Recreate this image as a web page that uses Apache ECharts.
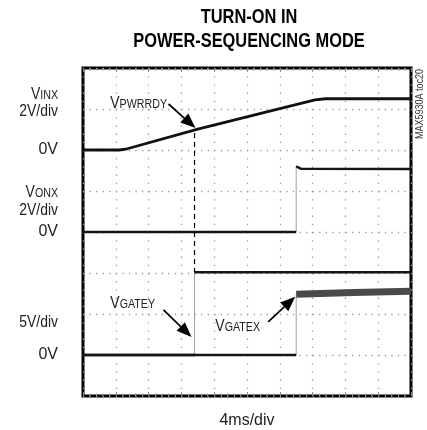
<!DOCTYPE html>
<html>
<head>
<meta charset="utf-8">
<script src="https://cdn.jsdelivr.net/npm/echarts@6/dist/echarts.min.js"></script>
<style>
  html, body { margin: 0; padding: 0; background: #fff; }
  #chart { width: 427px; height: 430px; }
</style>
</head>
<body>
<div id="chart"></div>
<script>
// ── scope data: time in ms (4ms/div, 10 div), values in volts ──
const FONT = '"Liberation Sans", Arial, sans-serif'
const NARROW = 0.82 // squeeze to a narrow face

const vinxTime = [0, 4.4, 5.4, 14, 24, 28.3, 29.6, 40]
const vinxVolts = [0, 0, 0.06, 1.02, 2.02, 2.44, 2.5, 2.5]

// repeated time = vertical edge
const vonxTime = [0, 26, 26, 26.6, 40]
const vonxVolts = [0, 0, 3.2, 3.08, 3.07]

const gateyTime = [0, 13.6, 13.6, 40]
const gateyVolts = [0, 0, 10.1, 10.1]

const gatexTime = [0, 26, 26, 33, 40]
const gatexVolts = [0, 0, 7.4, 7.62, 7.77]

const timeTicks = [0, 40, 4]   // min, max, interval (ms)
const dashTime = 13.6          // VPWRRDY marker

const chart = echarts.init(document.getElementById('chart'))

// split a trace into level segments and thin edge segments
function buildTrace(t, v) {
  const segs = [[]]
  const edges = []
  for (let i = 0; i < t.length; i++) {
    if (i > 0 && t[i] === t[i - 1]) {
      edges.push([t[i - 1], v[i - 1]], [t[i], v[i]], [t[i], '-'])
      segs.push([])
    }
    segs[segs.length - 1].push([t[i], v[i]])
  }
  return { segs, edges }
}

const joinSegs = (segs) => segs.flatMap((s, k) => (k ? [[s[0][0], '-'], ...s] : s))

function interp(t, v, x) {
  for (let i = 1; i < t.length; i++) {
    if (x <= t[i]) return v[i - 1] + (v[i] - v[i - 1]) * (x - t[i - 1]) / (t[i] - t[i - 1])
  }
  return v[v.length - 1]
}

const vonx = buildTrace(vonxTime, vonxVolts)
const gatey = buildTrace(gateyTime, gateyVolts)
const gatex = buildTrace(gatexTime, gatexVolts)

const dotH = { color: '#9a9a9a', width: 1.3, type: [1.3, 5.26] }
const dotV = { color: '#9a9a9a', width: 1.3, type: [1.3, 6.9] }
const zeroLabel = {
  margin: 25, fontSize: 16, color: '#222', fontFamily: FONT, padding: [4, 0, 0, 0],
  formatter: (v) => (v === 0 ? '0V' : ''),
}
const hiddenLine = { show: false, onZero: false }

function trace(data, axis, color, width) {
  return {
    type: 'line', data, yAxisIndex: axis, symbol: 'none', silent: true,
    lineStyle: { color, width }, animation: false, z: 3,
  }
}

function edge(data, axis) {
  return {
    type: 'line', data, yAxisIndex: axis, symbol: 'none', silent: true,
    lineStyle: { color: '#a0a0a0', width: 1 }, animation: false, z: 2,
  }
}

chart.setOption({
  animation: false,
  grid: {
    left: 83, top: 68, width: 328, height: 328, containLabel: false, outerBoundsMode: 'none',
    show: true, borderColor: '#000', borderWidth: 3, backgroundColor: '#fff',
  },
  xAxis: [
    {
      type: 'value', min: timeTicks[0], max: timeTicks[1], interval: timeTicks[2],
      name: '4ms/div', nameLocation: 'middle', nameGap: 17,
      nameTextStyle: { fontFamily: FONT, fontSize: 16, color: '#222' },
      axisLine: hiddenLine,
      axisLabel: { show: false },
      axisTick: { show: true, inside: true, length: 4, lineStyle: { color: '#888' } },
      minorTick: { show: true, splitNumber: 5, length: 2.5, lineStyle: { color: '#999' } },
      splitLine: { show: true, lineStyle: dotV },
    },
    {
      type: 'value', position: 'top', min: timeTicks[0], max: timeTicks[1], interval: timeTicks[2],
      axisLine: hiddenLine, axisLabel: { show: false },
      axisTick: { show: true, inside: true, length: 4, lineStyle: { color: '#888' } },
      minorTick: { show: true, splitNumber: 5, length: 2.5, lineStyle: { color: '#999' } },
      splitLine: { show: false },
    },
  ],
  yAxis: [
    // VINX 2V/div, zero at div 6
    {
      type: 'value', position: 'left', min: -12, max: 4, interval: 2,
      axisLine: hiddenLine, axisTick: { show: false },
      axisLabel: zeroLabel,
      splitLine: { show: true, lineStyle: dotH },
    },
    // VONX 2V/div, zero at div 4
    {
      type: 'value', position: 'left', min: -8, max: 8, interval: 2,
      axisLine: hiddenLine, axisTick: { show: false },
      axisLabel: zeroLabel, splitLine: { show: false },
    },
    // VGATE 5V/div, zero at div 1
    {
      type: 'value', position: 'left', min: -5, max: 35, interval: 5,
      axisLine: hiddenLine, axisTick: { show: false },
      axisLabel: { ...zeroLabel, padding: [10, 0, 0, 0] }, splitLine: { show: false },
    },
  ],
  series: [
    trace(vinxTime.map((t, i) => [t, vinxVolts[i]]), 0, '#111', 2.8),
    trace(joinSegs(vonx.segs), 1, '#151515', 2.4),
    edge(vonx.edges, 1),
    trace(joinSegs(gatey.segs), 2, '#151515', 2.4),
    edge(gatey.edges, 2),
    trace(gatex.segs[0], 2, '#151515', 2.4),
    { ...trace(gatex.segs[1], 2, '#4a4a4a', 7), z: 4 },
    edge(gatex.edges, 2),
  ],
})

// ── annotations anchored on the data ──
const px = (axis, t, v) => chart.convertToPixel({ xAxisIndex: 0, yAxisIndex: axis }, [t, v])

function arrow(tip, dx, dy) {
  const tail = [tip[0] + dx, tip[1] + dy]
  const len = Math.hypot(dx, dy)
  const ux = -dx / len, uy = -dy / len
  const headLen = 15, halfW = 6
  const base = [tip[0] - ux * headLen, tip[1] - uy * headLen]
  return [
    { type: 'line', shape: { x1: tail[0], y1: tail[1], x2: base[0], y2: base[1] }, style: { stroke: '#000', lineWidth: 1.7 }, z: 10 },
    {
      type: 'polygon', z: 10,
      shape: { points: [tip, [base[0] - uy * halfW, base[1] + ux * halfW], [base[0] + uy * halfW, base[1] - ux * halfW]] },
      style: { fill: '#000' },
    },
  ]
}

function label(x, y, main, sub) {
  return {
    type: 'text', x, y, z: 10, scaleX: NARROW, scaleY: 1,
    style: {
      text: sub ? `{v|${main}}{s|${sub}}` : main,
      align: 'right', verticalAlign: 'middle',
      font: `17px ${FONT}`, fill: '#222',
      rich: {
        v: { fontSize: 17, fontFamily: FONT, fill: '#222' },
        s: { fontSize: 13, fontFamily: FONT, fill: '#222', padding: [3, 0, 0, 0] },
      },
    },
  }
}

function title(y, text) {
  return {
    type: 'text', x: 249, y, z: 10, scaleX: NARROW, scaleY: 1,
    style: { text, align: 'center', verticalAlign: 'middle', font: `bold 20px ${FONT}`, fill: '#000' },
  }
}

const pinx = px(0, dashTime, interp(vinxTime, vinxVolts, dashTime))
const pgateyHigh = px(2, dashTime, gateyVolts[2])
const tipY = px(2, gateyTime[1], 2.2)
const tipX = px(2, gatexTime[1], 7.1)

chart.setOption({
  graphic: [
    title(17, 'TURN-ON IN'),
    title(41, 'POWER-SEQUENCING MODE'),
    {
      type: 'line', z: 4,
      shape: { x1: pinx[0], y1: pinx[1] + 3, x2: pgateyHigh[0], y2: pgateyHigh[1] },
      style: { stroke: '#000', lineWidth: 1.2, lineDash: [5, 4] },
    },
    ...arrow([pinx[0] + 1, pinx[1] - 2], -27, -24),
    ...arrow([tipY[0] - 3, tipY[1]], -28, -27),
    ...arrow([tipX[0] - 1, tipX[1]], -27, 25),
    label(167, 103, 'V', 'PWRRDY'),
    label(155, 303, 'V', 'GATEY'),
    label(260, 326, 'V', 'GATEX'),
    label(58, 94, 'V', 'INX'),
    label(58, 111, '2V/div'),
    label(58, 192, 'V', 'ONX'),
    label(58, 210, '2V/div'),
    label(58, 322, '5V/div'),
    {
      type: 'text', x: 420, y: 104, rotation: Math.PI / 2, scaleX: NARROW, scaleY: 1, z: 10,
      style: { text: 'MAX5930A toc20', align: 'center', verticalAlign: 'middle', font: `11px ${FONT}`, fill: '#333' },
    },
  ],
})
</script>
</body>
</html>
